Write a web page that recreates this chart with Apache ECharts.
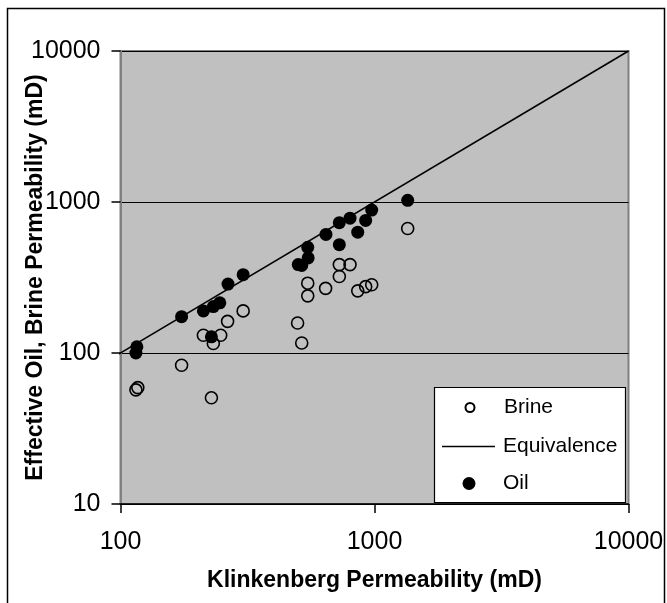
<!DOCTYPE html>
<html>
<head>
<meta charset="utf-8">
<script src="https://cdn.jsdelivr.net/npm/echarts@6/dist/echarts.min.js"></script>
<style>
  html, body { margin: 0; padding: 0; background: #fff; }
  #chart { width: 667px; height: 603px; }
</style>
</head>
<body>
<div id="chart"></div>
<script>
// Klinkenberg permeability (mD) vs. effective brine permeability (mD)
const brineKlink = [115, 117, 174, 228, 212, 232, 248, 264, 304, 498, 517, 546, 546, 642, 727, 801, 727, 859, 923, 975, 1351];
const brinePerm  = [57, 59, 83, 50.5, 131, 115.5, 131, 162, 190, 158, 116.5, 290, 239, 268, 385, 385, 321, 258, 275, 283, 668];

// Klinkenberg permeability (mD) vs. effective oil permeability (mD)
const oilKlink = [116, 115, 174, 212, 232, 246, 228, 265, 304, 501, 517, 548, 546, 644, 727, 727, 801, 859, 923, 975, 1351];
const oilPerm  = [110, 100, 174, 190, 203, 215, 128, 286, 330, 385, 380, 426, 501, 610, 730, 522, 782, 631, 755, 884, 1026];

// 1:1 equivalence line end points
const equivX = [93, 10000];
const equivY = [93, 10000];

// axis tick labels
const xTickLabels = ['100', '1000', '10000'];
const yTickLabels = ['10', '100', '1000', '10000'];

const seriesNames = ['Brine', 'Equivalence', 'Oil'];

const zip = (a, b) => a.map((v, i) => [v, b[i]]);
const FONT = 'Liberation Sans';

const labelFor = (labels) => (v) => {
  const s = String(Math.round(v));
  return labels.indexOf(s) >= 0 ? s : '';
};

const chart = echarts.init(document.getElementById('chart'), null, { renderer: 'canvas' });

const legendCommon = {
  orient: 'horizontal',
  padding: 0,
  selectedMode: false,
  z: 6
};
const legendText = (padLeft) => ({
  fontFamily: FONT, fontSize: 21, color: '#000', padding: [0, 0, 0, padLeft]
});

chart.setOption({
  animation: false,
  backgroundColor: '#fff',
  grid: {
    left: 120.5, right: 38.5, top: 51, bottom: 99,
    show: true,
    backgroundColor: '#C0C0C0',
    borderColor: '#808080',
    borderWidth: 2
  },
  xAxis: {
    type: 'log', logBase: 10, min: 100, max: 10000,
    name: 'Klinkenberg Permeability (mD)',
    nameLocation: 'middle', nameGap: 65, nameMoveOverlap: false,
    nameTextStyle: { fontFamily: FONT, fontSize: 23, fontWeight: 'bold', color: '#000' },
    axisLine: { show: true, lineStyle: { color: '#000', width: 1.5 } },
    axisTick: { show: true, inside: false, length: 9, lineStyle: { color: '#000', width: 1.5 } },
    minorTick: { show: false },
    splitLine: { show: false },
    axisLabel: {
      margin: 26, fontFamily: FONT, fontSize: 25, color: '#000',
      formatter: labelFor(xTickLabels)
    }
  },
  yAxis: {
    type: 'log', logBase: 10, min: 10, max: 10000,
    name: 'Effective Oil, Brine Permeability (mD)',
    nameLocation: 'middle', nameGap: 73, nameRotate: 90, nameMoveOverlap: false,
    nameTextStyle: { fontFamily: FONT, fontSize: 23, fontWeight: 'bold', color: '#000' },
    axisLine: { show: true, lineStyle: { color: '#808080', width: 2 } },
    axisTick: { show: true, inside: false, length: 9, lineStyle: { color: '#000', width: 1.5 } },
    minorTick: { show: false },
    splitLine: { show: true, lineStyle: { color: '#000', width: 1.2 } },
    axisLabel: {
      margin: 20, fontFamily: FONT, fontSize: 25, color: '#000',
      formatter: labelFor(yTickLabels)
    }
  },
  legend: [
    Object.assign({}, legendCommon, {
      data: [{ name: seriesNames[0], icon: 'circle' }],
      left: 464.5, top: 397, itemWidth: 9, itemHeight: 9, textStyle: legendText(24.5)
    }),
    Object.assign({}, legendCommon, {
      data: [{ name: seriesNames[1], icon: 'rect' }],
      left: 442, top: 436, itemWidth: 53, itemHeight: 1.6, textStyle: legendText(3)
    }),
    Object.assign({}, legendCommon, {
      data: [{ name: seriesNames[2], icon: 'circle' }],
      left: 462.5, top: 473, itemWidth: 13, itemHeight: 13, textStyle: legendText(22.5)
    })
  ],
  graphic: [
    {
      type: 'rect', z: 5,
      shape: { x: 434.5, y: 387.5, width: 191, height: 115 },
      style: { fill: '#fff', stroke: '#000', lineWidth: 1.2 }
    },
    {
      type: 'rect', z: 10, silent: true,
      shape: { x: 7.5, y: 8.5, width: 657, height: 640 },
      style: { fill: 'none', stroke: '#000', lineWidth: 1.5 }
    }
  ],
  series: [
    {
      name: seriesNames[0], type: 'scatter',
      data: zip(brineKlink, brinePerm),
      symbol: 'circle', symbolSize: 12, z: 2,
      itemStyle: { color: 'rgba(0,0,0,0)', borderColor: '#000', borderWidth: 1.6, opacity: 1 }
    },
    {
      name: seriesNames[1], type: 'line',
      data: zip(equivX, equivY),
      symbol: 'none', showSymbol: false, clip: false, z: 3,
      lineStyle: { color: '#000', width: 1.6 },
      itemStyle: { color: '#000' }
    },
    {
      name: seriesNames[2], type: 'scatter',
      data: zip(oilKlink, oilPerm),
      symbol: 'circle', symbolSize: 13, z: 4,
      itemStyle: { color: '#000', borderColor: '#000', borderWidth: 0, opacity: 1 }
    }
  ]
});
</script>
</body>
</html>
